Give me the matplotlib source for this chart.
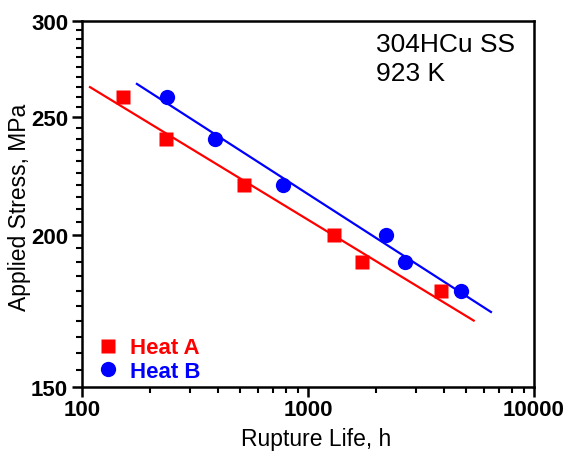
import matplotlib
matplotlib.use("Agg")
import matplotlib.pyplot as plt
from matplotlib.ticker import FixedLocator, FixedFormatter, NullFormatter
from matplotlib.lines import Line2D

plt.rcParams['font.family'] = ['Liberation Sans', 'DejaVu Sans']

# === data ===
heat_a_life = [152, 235, 521, 1303, 1734, 3874]
heat_a_stress = [260, 240, 220, 200, 190, 180]
heat_b_life = [238, 388, 774, 2213, 2686, 4753]
heat_b_stress = [260, 240, 220, 200, 190, 180]

# fitted lines (end points)
fit_a_life = [108.5, 5410]
fit_a_stress = [264.7, 170.1]
fit_b_life = [175, 6450]
fit_b_stress = [266.3, 172.9]

x_ticks = [100, 1000, 10000]
y_ticks = [150, 200, 250, 300]

red = '#FF0000'
blue = '#0000FF'

fig = plt.figure(figsize=(5.64, 4.52), dpi=100)
ax = fig.add_axes([0.1454, 0.1416, 0.8014, 0.8097])

ax.plot(fit_a_life, fit_a_stress, color=red, lw=1.6)
ax.plot(fit_b_life, fit_b_stress, color=blue, lw=1.6)
ax.plot(heat_a_life, heat_a_stress, 's', color=red, ms=9.5, mec='none')
ax.plot(heat_b_life, heat_b_stress, 'o', color=blue, ms=11, mec='none')

ax.set_xscale('log')
ax.set_yscale('log')
ax.set_xlim(100, 10000)
ax.set_ylim(150, 300)

ax.xaxis.set_major_locator(FixedLocator(x_ticks))
ax.xaxis.set_major_formatter(FixedFormatter([str(t) for t in x_ticks]))
x_minor = [m * d for d in (100, 1000) for m in range(2, 10)]
ax.xaxis.set_minor_locator(FixedLocator(x_minor))
ax.xaxis.set_minor_formatter(NullFormatter())

ax.yaxis.set_major_locator(FixedLocator(y_ticks))
ax.yaxis.set_major_formatter(FixedFormatter([str(t) for t in y_ticks]))
y_minor = [v for v in range(155, 300, 5) if v not in y_ticks]
ax.yaxis.set_minor_locator(FixedLocator(y_minor))
ax.yaxis.set_minor_formatter(NullFormatter())

for s in ax.spines.values():
    s.set_linewidth(1.8)
ax.tick_params(which='major', direction='out', length=7, width=1.8,
               labelsize=16, top=False, right=False)
ax.tick_params(which='minor', direction='out', length=4, width=1.5,
               top=False, right=False)
ax.tick_params(axis='x', which='major', pad=2)
ax.tick_params(axis='y', which='major', pad=3)
for lab in ax.get_xticklabels() + ax.get_yticklabels():
    lab.set_fontweight('bold')

ax.set_xlabel('Rupture Life, h', fontsize=16.5)
ax.set_ylabel('Applied Stress, MPa', fontsize=16.5)
ax.xaxis.set_label_coords(0.518, -0.108)
ax.yaxis.set_label_coords(-0.112, 0.493)

ax.text(0.650, 0.918, '304HCu SS', transform=ax.transAxes, fontsize=19,
        va='baseline', ha='left')
ax.text(0.650, 0.839, '923 K', transform=ax.transAxes, fontsize=19,
        va='baseline', ha='left')

handles = [Line2D([], [], ls='none', marker='s', color=red, ms=9.5, mec='none'),
           Line2D([], [], ls='none', marker='o', color=blue, ms=11, mec='none')]
leg = ax.legend(handles, ['Heat A', 'Heat B'], loc='lower left',
                bbox_to_anchor=(0.034, 0.015), frameon=False, borderpad=0,
                borderaxespad=0, handlelength=1.0, handletextpad=0.45,
                labelspacing=0.1, prop={'size': 16, 'weight': 'bold'})
for txt, c in zip(leg.get_texts(), [red, blue]):
    txt.set_color(c)

fig.savefig('out.png', dpi=100)
